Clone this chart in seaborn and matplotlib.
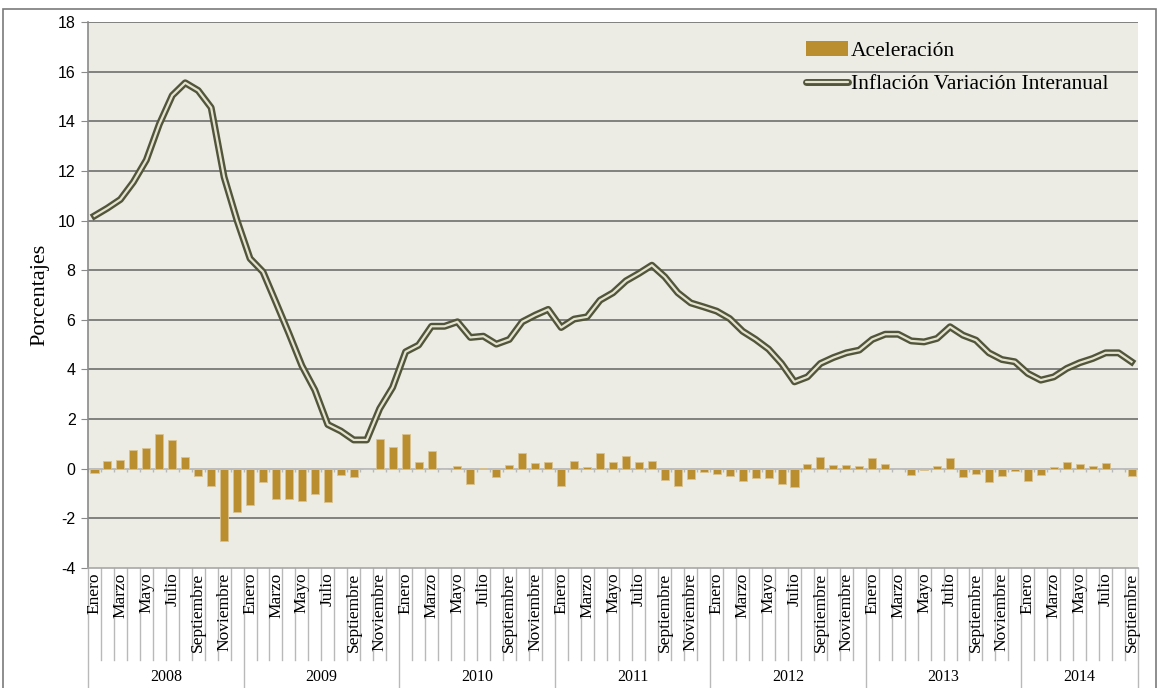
import matplotlib
matplotlib.use('Agg')
import matplotlib.pyplot as plt
import matplotlib.patheffects as pe
from matplotlib.lines import Line2D
from matplotlib.patches import Patch, Rectangle
import numpy as np
import pandas as pd
import seaborn as sns

# datos
years = ['2008', '2009', '2010', '2011', '2012', '2013', '2014']
month_names = ['Enero', '', 'Marzo', '', 'Mayo', '', 'Julio', '', 'Septiembre', '', 'Noviembre', '']

inflacion = [10.19, 10.5, 10.85, 11.55, 12.44, 13.88, 15.04, 15.55, 15.24, 14.55, 11.75, 10.0,
             8.47, 7.93, 6.7, 5.45, 4.15, 3.17, 1.78, 1.52, 1.16, 1.16, 2.42, 3.28,
             4.71, 4.98, 5.74, 5.74, 5.92, 5.29, 5.34, 5.02, 5.21, 5.92, 6.19, 6.42,
             5.69, 6.03, 6.12, 6.79, 7.09, 7.57, 7.87, 8.2, 7.73, 7.09, 6.68, 6.52,
             6.35, 6.05, 5.54, 5.21, 4.82, 4.24, 3.5, 3.7, 4.24, 4.48, 4.67, 4.78,
             5.21, 5.42, 5.42, 5.15, 5.11, 5.25, 5.72, 5.38, 5.18, 4.67, 4.4, 4.31,
             3.84, 3.57, 3.7, 4.04, 4.27, 4.44, 4.67, 4.67, 4.31]

aceleracion = [-0.16, 0.31, 0.35, 0.74, 0.82, 1.38, 1.17, 0.48, -0.3, -0.71, -2.9, -1.76,
               -1.48, -0.55, -1.21, -1.21, -1.32, -1.02, -1.36, -0.24, -0.35, 0.0, 1.18, 0.87,
               1.38, 0.26, 0.72, 0.0, 0.13, -0.62, 0.04, -0.34, 0.17, 0.64, 0.23, 0.26,
               -0.7, 0.3, 0.05, 0.62, 0.28, 0.5, 0.26, 0.3, -0.46, -0.7, -0.4, -0.15,
               -0.2, -0.31, -0.5, -0.36, -0.39, -0.62, -0.75, 0.2, 0.47, 0.16, 0.16, 0.09,
               0.42, 0.19, 0.0, -0.27, -0.07, 0.09, 0.43, -0.34, -0.2, -0.54, -0.28, -0.09,
               -0.48, -0.24, 0.08, 0.27, 0.21, 0.13, 0.23, 0.0, -0.28]

n = len(inflacion)
df = pd.DataFrame({'mes': np.arange(n), 'inflacion': inflacion, 'aceleracion': aceleracion})
labels = [month_names[i % 12] for i in range(n)]

serif = ['Liberation Serif', 'DejaVu Serif']
sans = ['Liberation Sans', 'DejaVu Sans']

bar_color = '#BA8E2F'
line_dark = '#53553b'
line_light = '#e4e4d0'
grid_color = '#6f6f6f'
sep_color = '#b9b9b9'

fig = plt.figure(figsize=(11.58, 6.88), dpi=100)
ax = fig.add_axes([88/1158, 1 - 568/688, (1138-88)/1158, (568-22)/688])
ax.set_facecolor('#ECECE5')

# barras de aceleración
sns.barplot(data=df, x='mes', y='aceleracion', color=bar_color, saturation=1,
            width=0.62, edgecolor='#d9c38f', linewidth=0.6, ax=ax, zorder=3)

# línea de inflación (doble línea)
sns.lineplot(data=df, x='mes', y='inflacion', color=line_light, linewidth=1.6, ax=ax, zorder=4,
             path_effects=[pe.Stroke(linewidth=5, foreground=line_dark), pe.Normal()])

ax.set_xlim(-0.5, n - 0.5)
ax.set_ylim(-4, 18)
ax.set_yticks(range(-4, 19, 2))
ax.set_yticklabels([str(v) for v in range(-4, 19, 2)], family=sans, fontsize=11.5)
ax.tick_params(axis='y', length=5, color='#8a8a8a', pad=4)

# líneas de cuadrícula
for v in range(-2, 19, 2):
    if v == 0:
        ax.axhline(v, color=sep_color, lw=1.3, zorder=2)
    else:
        ax.axhline(v, color=grid_color, lw=1.2, zorder=1)
ax.vlines(np.arange(n + 1) - 0.5, -0.15, 0, color=sep_color, lw=1, zorder=2)

for s in ['top', 'right']:
    ax.spines[s].set_visible(False)
ax.spines['left'].set_color('#8a8a8a')
ax.spines['left'].set_linewidth(1.2)
ax.spines['bottom'].set_color('#a8a8a8')
ax.spines['bottom'].set_linewidth(1.2)

# etiquetas del eje x
ax.set_xticks(np.arange(n))
ax.set_xticklabels([])
ax.tick_params(axis='x', length=0)
ax.set_xlabel('')
ax.set_ylabel('Porcentajes', family=serif, fontsize=16, labelpad=6)

trans = ax.get_xaxis_transform()
for i, lab in enumerate(labels):
    if lab:
        ax.text(i, -0.008, lab, transform=trans, rotation=90, ha='center', va='top',
                family=serif, fontsize=12.5, clip_on=False)
sep_bottom = -(660 - 568) / 546
year_bottom = -(700 - 568) / 546
for i in range(n + 1):
    low = year_bottom if (i % 12 == 0 or i == n) else sep_bottom
    ax.plot([i - 0.5, i - 0.5], [0, low], transform=trans, color=sep_color, lw=1, clip_on=False)
for k, y in enumerate(years):
    start = k * 12
    end = min(start + 12, n)
    ax.text((start + end - 1) / 2, -(677 - 568) / 546, y, transform=trans, ha='center', va='center',
            family=serif, fontsize=11.5, clip_on=False)

# leyenda
handles = [Patch(facecolor=bar_color, edgecolor='none'),
           Line2D([], [], color=line_light, lw=1.6, solid_capstyle='round',
                  path_effects=[pe.Stroke(linewidth=5, foreground=line_dark, capstyle='round'), pe.Normal()])]
leg = ax.legend(handles, ['Aceleración', 'Inflación Variación Interanual'],
                loc='upper left', bbox_to_anchor=(797/1158, 1 - 32/688), bbox_transform=fig.transFigure,
                frameon=False, prop={'family': serif, 'size': 15.5}, handlelength=1.95,
                handleheight=0.75, handletextpad=0.15, labelspacing=0.6, borderaxespad=0)
leg.set_zorder(5)

# marco exterior
fig.patches.append(Rectangle((3/1158, -0.05), (1156-3)/1158, 1.05 - 9/688, transform=fig.transFigure,
                             fill=False, edgecolor='#7a7a7a', lw=1.2))

fig.savefig('out.png', dpi=100)
